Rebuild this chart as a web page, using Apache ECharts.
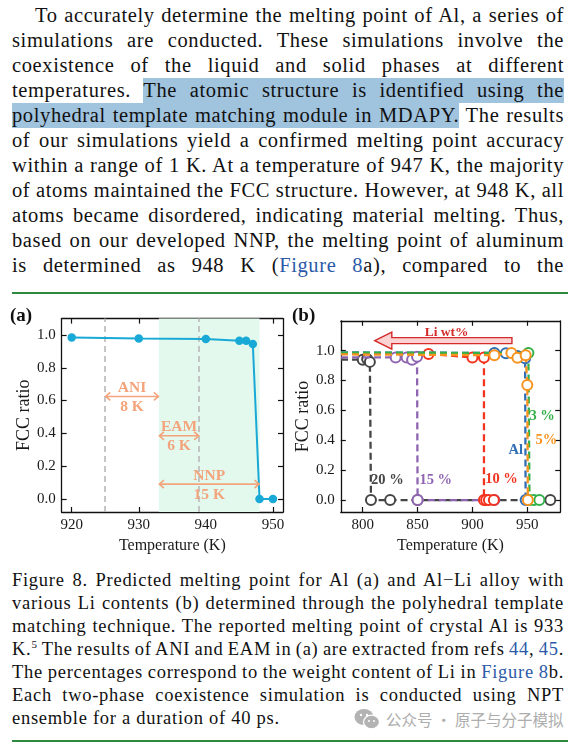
<!DOCTYPE html>
<html>
<head>
<meta charset="utf-8">
<script src="https://cdn.jsdelivr.net/npm/echarts@6/dist/echarts.min.js"></script>
<style>
html,body{margin:0;padding:0;background:#fff;width:582px;height:746px;overflow:hidden;}
#page{position:relative;width:582px;height:746px;}
.ln{position:absolute;white-space:nowrap;font-family:"Liberation Serif","Times New Roman",serif;color:#111;}
.ln sup{font-size:11px;line-height:0;vertical-align:7px;}
.lk{color:#2c5aa8;}
.hl{background:#a0c3de;padding:1px 0 2px 0;}
.rule{position:absolute;left:12px;width:556px;height:2.5px;background:#2f8a3e;}
#chart{position:absolute;left:0;top:300px;width:582px;height:262px;}
#wm{position:absolute;left:354px;top:707px;height:24px;display:flex;align-items:center;font-family:"Noto Sans CJK SC",sans-serif;font-size:15.5px;color:#adadad;white-space:nowrap;}
#wm svg{margin-right:6px;}
</style>
</head>
<body>
<div id="page">
  <div id="body"></div>
  <div class="rule" style="top:291.5px"></div>
  <div id="chart"></div>
  <div id="cap"></div>
  <div id="wm"><svg width="26" height="22" viewBox="0 0 26 22"><ellipse cx="10" cy="9" rx="9.5" ry="8" fill="#b3b3b3"/><circle cx="7" cy="7" r="1.2" fill="#fff"/><circle cx="13" cy="7" r="1.2" fill="#fff"/><ellipse cx="17.5" cy="14" rx="8" ry="6.8" fill="#b3b3b3" stroke="#fff" stroke-width="1.2"/><circle cx="15" cy="13" r="1" fill="#fff"/><circle cx="20" cy="13" r="1" fill="#fff"/></svg><span>公众号 · 原子与分子模拟</span></div>
  <div class="rule" style="top:739.5px"></div>
</div>
<script>
// ---------------- text ----------------
const BODY_LINES = [
  "To accurately determine the melting point of Al, a series of",
  "simulations are conducted. These simulations involve the",
  "coexistence of the liquid and solid phases at different",
  "temperatures. {The atomic structure is identified using the}",
  "{polyhedral template matching module in MDAPY.} The results",
  "of our simulations yield a confirmed melting point accuracy",
  "within a range of 1 K. At a temperature of 947 K, the majority",
  "of atoms maintained the FCC structure. However, at 948 K, all",
  "atoms became disordered, indicating material melting. Thus,",
  "based on our developed NNP, the melting point of aluminum",
  "is determined as 948 K ([Figure 8]a), compared to the"
];
const CAPTION_LINES = [
  "Figure 8. Predicted melting point for Al (a) and Al\u2212Li alloy with",
  "various Li contents (b) determined through the polyhedral template",
  "matching technique. The reported melting point of crystal Al is 933",
  "K.^5^ The results of ANI and EAM in (a) are extracted from refs [44], [45].",
  "The percentages correspond to the weight content of Li in [Figure 8]b.",
  "Each two-phase coexistence simulation is conducted using NPT",
  "ensemble for a duration of 40 ps."
];

function markup(s){
  return s.replace(/\{([^}]*)\}/g,'<span class="hl">$1</span>')
          .replace(/\[([^\]]*)\]/g,'<span class="lk">$1</span>')
          .replace(/\^([^^]*)\^/g,'<sup>$1</sup>');
}
function buildBlock(id, lines, o){
  const c = document.getElementById(id);
  const divs = lines.map((s,i)=>{
    const d = document.createElement('div');
    d.className='ln';
    d.style.top = (o.top + i*o.lh)+'px';
    d.style.left = (i===0 ? o.left + o.indent : o.left)+'px';
    d.style.fontSize = o.fs+'px';
    d.style.lineHeight = o.lh+'px';
    d.innerHTML = markup(s);
    c.appendChild(d);
    return d;
  });
  const ref = divs[o.refLine];
  const w0 = ref.getBoundingClientRect().width;
  const n = ref.textContent.length;
  const target0 = o.right - o.left - (o.refLine===0?o.indent:0);
  const ls = Math.max(0,(target0 - w0)/n*o.lsFactor);
  divs.forEach(d=>d.style.letterSpacing = ls+'px');
  divs.forEach((d,i)=>{
    if (o.lastNatural && i===divs.length-1) return;
    const w = d.getBoundingClientRect().width;
    const target = o.right - (i===0 ? o.left+o.indent : o.left);
    const sp = (d.textContent.match(/ /g)||[]).length;
    if (sp>0) d.style.wordSpacing = ((target - w)/sp)+'px';
  });
}
buildBlock('body', BODY_LINES, {top:2.5, lh:25, left:12, right:564, indent:23, fs:20.5, refLine:6, lastNatural:false, lsFactor:0.9});
buildBlock('cap', CAPTION_LINES, {top:568.5, lh:23.05, left:12, right:564, indent:0, fs:18.5, refLine:2, lastNatural:true, lsFactor:0.9});

// ---------------- chart data ----------------
// (a) pure Al
const A_T   = [920, 930, 940, 945, 946, 947, 948, 950];
const A_FCC = [0.985, 0.979, 0.976, 0.965, 0.965, 0.945, 0.0, 0.0];
const REF_T = 933;   // experimental melting point
const ANI_T = 925;
const EAM_T = 939;
const NNP_T = 948;
const ANN_X1   = [925, 933, 933];
const ANN_X2   = [933, 939, 948];
const ANN_Y    = [0.625, 0.385, 0.09];
const ANN_NAME = ['ANI', 'EAM', 'NNP'];
const ANN_DIFF = ['8 K', '6 K', '15 K'];
const A_XTICKS = [920, 930, 940, 950];
const YTICKS   = [0, 0.2, 0.4, 0.6, 0.8, 1.0];

// (b) Al-Li alloys
const B20_T   = [700, 800, 804, 806.5, 807.5, 825, 850, 971];
const B20_FCC = [0.945, 0.94, 0.945, 0.925, 0, 0, 0, 0];
const B15_T   = [700, 830, 840, 845, 849.5, 850, 920];
const B15_FCC = [0.955, 0.955, 0.955, 0.94, 0.96, 0, 0];
const B10_T   = [700, 860, 900, 910.5, 910.5, 912.5, 915, 919.5];
const B10_FCC = [0.98, 0.978, 0.955, 0.955, 0, 0, 0, 0];
const BAL_T   = [700, 920, 930.5, 941, 948, 948.5];
const BAL_FCC = [0.99, 0.985, 0.983, 0.965, 0.95, 0];
const B3_T    = [700, 951, 952, 956, 961];
const B3_FCC  = [0.988, 0.985, 0, 0, 0];
const B5_T    = [700, 920, 935.5, 941, 948.5, 950, 950.5];
const B5_FCC  = [0.978, 0.97, 0.985, 0.952, 0.97, 0.77, 0];
const B_NAMES = ['20 %', '15 %', '10 %', 'Al', '3 %', '5%'];
const BL_T    = [822.5, 866.5, 926.5, 939.5, 963.5, 967.5];
const BL_FCC  = [0.133, 0.133, 0.14, 0.335, 0.56, 0.40];
const ARROW_T = [811, 936];   // tip, tail
const ARROW_Y = 1.067;
const ARROW_TEXT = 'Li wt%';
const ARROW_TEXT_T = 876.5, ARROW_TEXT_Y = 1.123;
const B_XTICKS = [800, 850, 900, 950];

// ---------------- chart ----------------
const FONT = '"Liberation Serif","Times New Roman",serif';
const INK = '#1a1a1a';
const CYAN = '#18a9d6';
const ORG = '#f3a47c';
const B_COLORS = ['#454545', '#8f65b2', '#f2341f', '#2f6db5', '#34b04a', '#f7931e'];

function axis(gridIndex, pos, min, max, ticks, labeled, name, nameGap, fmt, nameSize){
  return {
    type:'value', gridIndex, position:pos, min, max, scale:true,
    axisLine:{show:true, onZero:false, lineStyle:{color:'#111', width:1.3}},
    axisTick:{show:true, inside:true, length:5, customValues:ticks, lineStyle:{color:'#111', width:1.2}},
    axisLabel:{show:labeled, customValues:ticks, formatter:fmt, fontFamily:FONT, fontSize:15, color:INK, margin:6},
    splitLine:{show:false},
    name: labeled ? name : '', nameLocation:'middle', nameGap,
    nameTextStyle:{fontFamily:FONT, fontSize:nameSize||16, color:INK}
  };
}
const fx = v => String(Math.round(v));
const fy = v => v.toFixed(1);

const chart = echarts.init(document.getElementById('chart'));
const bData = [[B20_T,B20_FCC],[B15_T,B15_FCC],[B10_T,B10_FCC],[BAL_T,BAL_FCC],[B3_T,B3_FCC],[B5_T,B5_FCC]];

const bSeries = bData.map((d,k)=>({
  type:'line', xAxisIndex:2, yAxisIndex:2,
  data: d[0].map((t,i)=>[t, d[1][i]]),
  symbol:'emptyCircle', showAllSymbol:true,
  symbolSize: v => v[0] < 780 ? 0 : 10,
  lineStyle:{color:B_COLORS[k], width:2.3, type:[7,4]},
  itemStyle:{color:B_COLORS[k], borderWidth:1.5},
  z: 3+k, silent:true, animation:false
}));

chart.setOption({
  animation:false,
  grid:[
    {left:61.65, top:18.6, width:221.35, height:193.4},
    {left:340.8, top:20.8, width:219.4, height:191.2}
  ],
  xAxis:[
    axis(0,'bottom',918.5,951.5,A_XTICKS,true,'Temperature (K)',23,fx,16),
    axis(0,'top',918.5,951.5,A_XTICKS,false,'',0,fx),
    axis(1,'bottom',780,980,B_XTICKS,true,'Temperature (K)',23,fx,16),
    axis(1,'top',780,980,B_XTICKS,false,'',0,fx)
  ],
  yAxis:[
    axis(0,'left',-0.08,1.1,YTICKS,true,'FCC ratio',28,fy,18),
    axis(0,'right',-0.08,1.1,YTICKS,false,'',0,fy),
    axis(1,'left',-0.08,1.2,YTICKS,true,'FCC ratio',28,fy,18),
    axis(1,'right',-0.08,1.2,YTICKS,false,'',0,fy)
  ],
  graphic:[
    {type:'text', left:10, top:7, style:{text:'(a)', font:'bold 19px '+FONT, fill:'#111'}},
    {type:'text', left:292, top:7, style:{text:'(b)', font:'bold 19px '+FONT, fill:'#111'}}
  ],
  series:[
    {
      type:'line', xAxisIndex:0, yAxisIndex:0,
      data: A_T.map((t,i)=>[t, A_FCC[i]]),
      symbol:'circle', symbolSize:8.5,
      lineStyle:{color:CYAN, width:2}, itemStyle:{color:CYAN},
      z:5, silent:true,
      markArea:{silent:true, itemStyle:{color:'#e3f9ed'}, data:[[{xAxis:REF_T},{xAxis:NNP_T}]]},
      markLine:{silent:true, symbol:'none', label:{show:false},
        lineStyle:{color:'#b8b8b8', type:[6,4], width:1.6},
        data:[{xAxis:ANI_T},{xAxis:EAM_T}]}
    },
    {
      type:'custom', xAxisIndex:0, yAxisIndex:0, z:6, silent:true,
      data: ANN_X1.map((x,i)=>[x, ANN_X2[i], ANN_Y[i]]),
      renderItem:(p,api)=>{
        const a = api.coord([api.value(0), api.value(2)]);
        const b = api.coord([api.value(1), api.value(2)]);
        const i = p.dataIndex, h = 5, cx = (a[0]+b[0])/2;
        const st = {stroke:ORG, lineWidth:1.6, fill:null};
        const tf = 'bold 15.5px '+FONT;
        return {type:'group', children:[
          {type:'line', shape:{x1:a[0],y1:a[1],x2:b[0],y2:b[1]}, style:st},
          {type:'polyline', shape:{points:[[a[0]+h,a[1]-h*0.8],[a[0]+0.5,a[1]],[a[0]+h,a[1]+h*0.8]]}, style:st},
          {type:'polyline', shape:{points:[[b[0]-h,b[1]-h*0.8],[b[0]-0.5,b[1]],[b[0]-h,b[1]+h*0.8]]}, style:st},
          {type:'text', x:cx, y:a[1]-8.5, style:{text:ANN_NAME[i], align:'center', verticalAlign:'middle', font:tf, fill:ORG}},
          {type:'text', x:cx, y:a[1]+10.5, style:{text:ANN_DIFF[i], align:'center', verticalAlign:'middle', font:tf, fill:ORG}}
        ]};
      }
    },
    ...bSeries,
    {
      type:'custom', xAxisIndex:2, yAxisIndex:2, z:20, silent:true,
      data: BL_T.map((t,i)=>[t, BL_FCC[i]]),
      renderItem:(p,api)=>{
        const c = api.coord([api.value(0), api.value(1)]);
        const i = p.dataIndex;
        return {type:'text', x:c[0], y:c[1], style:{text:B_NAMES[i], align:'center', verticalAlign:'middle', font:'bold 14.5px '+FONT, fill:B_COLORS[i]}};
      }
    },
    {
      type:'custom', xAxisIndex:2, yAxisIndex:2, z:21, silent:true,
      data: [[ARROW_T[0], ARROW_T[1], ARROW_Y, ARROW_TEXT_T, ARROW_TEXT_Y]],
      renderItem:(p,api)=>{
        const a = api.coord([api.value(0), api.value(2)]);
        const b = api.coord([api.value(1), api.value(2)]);
        const t = api.coord([api.value(3), api.value(4)]);
        const hl = 17, hh = 8.5, sh = 3;
        const pts = [[a[0],a[1]],[a[0]+hl,a[1]-hh],[a[0]+hl,a[1]-sh],[b[0],b[1]-sh],[b[0],b[1]+sh],[a[0]+hl,a[1]+sh],[a[0]+hl,a[1]+hh]];
        return {type:'group', children:[
          {type:'polygon', shape:{points:pts}, style:{fill:'#fbd3d3', stroke:'#d42a2a', lineWidth:1.4}},
          {type:'text', x:t[0], y:t[1], style:{text:ARROW_TEXT, align:'center', verticalAlign:'middle', font:'bold 13.5px '+FONT, fill:'#d42a2a'}}
        ]};
      }
    }
  ]
});
</script>
</body>
</html>
